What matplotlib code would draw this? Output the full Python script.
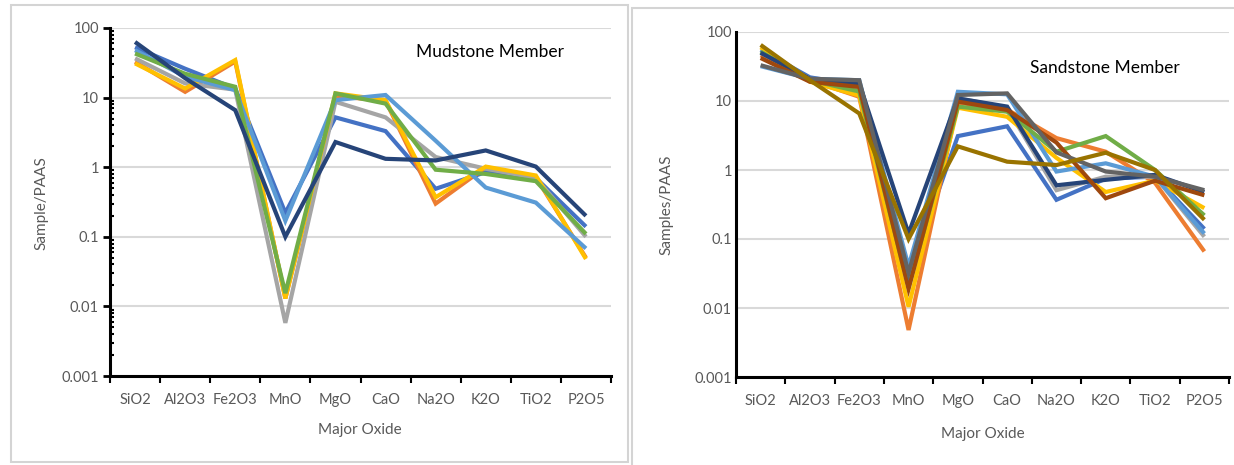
import matplotlib
matplotlib.use("Agg")
import matplotlib.pyplot as plt
import matplotlib.patches as patches
from matplotlib.ticker import FixedLocator, NullFormatter, LogLocator

plt.rcParams['font.family'] = ['Lato', 'DejaVu Sans']

oxides = ["SiO2", "Al2O3", "Fe2O3", "MnO", "MgO", "CaO", "Na2O", "K2O", "TiO2", "P2O5"]
ytick_vals = [0.001, 0.01, 0.1, 1, 10, 100]
ytick_labels = ["0.001", "0.01", "0.1", "1", "10", "100"]

# Mudstone member (Sample/PAAS)
mud_blue = [53, 26, 13.5, 0.22, 5.2, 3.3, 0.49, 0.85, 0.7, 0.14]
mud_orange = [32.7, 12.1, 33, 0.013, 10.5, 9.0, 0.30, 1.0, 0.72, 0.05]
mud_gray = [36.6, 16, 13, 0.0058, 8.7, 5.2, 1.4, 0.95, 0.7, 0.10]
mud_yellow = [31, 13.5, 34.6, 0.013, 11.5, 9.2, 0.37, 1.02, 0.76, 0.048]
mud_lightblue = [48, 20, 12.8, 0.17, 9.2, 10.9, 2.4, 0.51, 0.31, 0.068]
mud_green = [43, 22, 14.3, 0.0155, 11.5, 8.2, 0.92, 0.8, 0.63, 0.11]
mud_navy = [63, 19, 6.6, 0.1, 2.3, 1.32, 1.25, 1.74, 1.02, 0.2]

# Sandstone member (Samples/PAAS)
sand_blue = [55, 22, 17, 0.03, 3.1, 4.3, 0.37, 0.75, 0.8, 0.14]
sand_orange = [46, 20, 11.5, 0.0048, 9.5, 7.5, 2.9, 1.84, 0.65, 0.066]
sand_gray = [50, 21, 15, 0.025, 11, 8, 0.51, 0.8, 0.8, 0.108]
sand_yellow = [60, 19, 12, 0.0104, 8, 5.9, 1.5, 0.48, 0.7, 0.28]
sand_lightblue = [32, 21, 20, 0.04, 13.6, 12.5, 0.95, 1.25, 0.8, 0.12]
sand_green = [52, 20, 13.7, 0.02, 8.3, 7, 1.84, 3.1, 1.0, 0.22]
sand_navy = [50, 21, 18, 0.12, 10.9, 8.3, 0.6, 0.72, 0.85, 0.48]
sand_brown = [42, 19, 16, 0.019, 9.8, 7.4, 2.5, 0.39, 0.7, 0.43]
sand_darkgray = [33, 21, 20, 0.032, 12.2, 12.9, 1.8, 0.95, 0.8, 0.51]
sand_olive = [65, 20, 6.6, 0.1, 2.2, 1.32, 1.18, 1.78, 1.0, 0.19]

mud_series = [
    (mud_blue, "#4472C4"), (mud_orange, "#ED7D31"), (mud_gray, "#A5A5A5"),
    (mud_yellow, "#FFC000"), (mud_lightblue, "#5B9BD5"), (mud_green, "#70AD47"),
    (mud_navy, "#264478"),
]
sand_series = [
    (sand_blue, "#4472C4"), (sand_orange, "#ED7D31"), (sand_gray, "#A5A5A5"),
    (sand_yellow, "#FFC000"), (sand_lightblue, "#5B9BD5"), (sand_green, "#70AD47"),
    (sand_navy, "#264478"), (sand_brown, "#9E480E"), (sand_darkgray, "#636363"),
    (sand_olive, "#997300"),
]

W, H = 1234, 465
fig = plt.figure(figsize=(W / 100, H / 100), dpi=100)
fig.patch.set_facecolor("white")


def fx(x):
    return x / W


def fy(y):
    return 1 - y / H


def frame(x0, y0, x1, y1):
    fig.patches.append(patches.Rectangle((fx(x0), fy(y1)), fx(x1 - x0), (y1 - y0) / H,
                                         transform=fig.transFigure, fill=False,
                                         edgecolor="#d4d4d4", lw=1.5))


def make_panel(left, right, top, bottom, series, minor_ticks, lw):
    ax = fig.add_axes([fx(left), fy(bottom), fx(right - left), (bottom - top) / H])
    x = list(range(len(oxides)))
    for vals, col in series:
        ax.plot(x, vals, color=col, lw=lw, solid_joinstyle="miter", solid_capstyle="butt")
    ax.set_yscale("log")
    ax.set_ylim(0.001, 100)
    ax.set_xlim(-0.5, len(oxides) - 0.5)
    ax.yaxis.set_major_locator(FixedLocator(ytick_vals))
    ax.set_yticklabels(ytick_labels)
    if minor_ticks:
        ax.yaxis.set_minor_locator(LogLocator(base=10, subs=range(2, 10)))
        ax.yaxis.set_minor_formatter(NullFormatter())
        ax.tick_params(axis="y", which="minor", direction="in", length=3, width=1.5)
        ax.tick_params(axis="y", which="major", direction="out", length=5, width=2)
    else:
        ax.yaxis.set_minor_locator(FixedLocator([]))
        ax.tick_params(axis="y", which="major", length=0)
    ax.tick_params(axis="y", labelsize=10.5, labelcolor="#595959", pad=3)
    ax.xaxis.set_major_locator(FixedLocator([i - 0.5 for i in range(len(oxides) + 1)]))
    ax.xaxis.set_major_formatter(NullFormatter())
    ax.xaxis.set_minor_locator(FixedLocator(x))
    ax.set_xticklabels(oxides, minor=True)
    ax.tick_params(axis="x", which="major", direction="out", length=5, width=1.5)
    ax.tick_params(axis="x", which="minor", length=0, pad=12, labelsize=10.5, labelcolor="#595959")
    ax.grid(True, axis="y", which="major", color="#d9d9d9", lw=1.5)
    ax.set_axisbelow(True)
    for s in ["top", "right"]:
        ax.spines[s].set_visible(False)
    ax.spines["left"].set_linewidth(2.2)
    ax.spines["bottom"].set_linewidth(2.2)
    ax.spines["left"].set_zorder(5)
    return ax


frame(11, 5, 628, 462)
frame(632, 8, 1236, 468)

make_panel(110, 611, 28, 376, mud_series, True, 3.0)
make_panel(736, 1229, 32, 377, sand_series, False, 3.0)

fig.text(fx(490), fy(52), "Mudstone Member", ha="center", va="center", fontsize=12.5, color="black")
fig.text(fx(1105), fy(68), "Sandstone Member", ha="center", va="center", fontsize=12.5, color="black")
fig.text(fx(360), fy(430), "Major Oxide", ha="center", va="center", fontsize=11, color="#595959")
fig.text(fx(983), fy(434), "Major Oxide", ha="center", va="center", fontsize=11, color="#595959")
fig.text(fx(41), fy(203), "Sample/PAAS", ha="center", va="center", rotation=90, fontsize=11, color="#595959")
fig.text(fx(666), fy(205), "Samples/PAAS", ha="center", va="center", rotation=90, fontsize=11, color="#595959")

fig.savefig("out.png", dpi=100, facecolor="white")
